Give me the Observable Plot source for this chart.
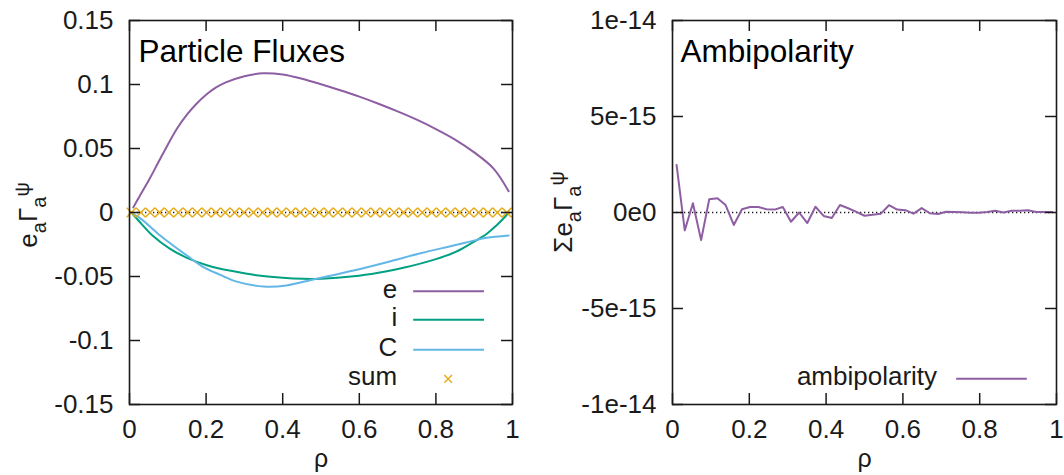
<!DOCTYPE html>
<html><head><meta charset="utf-8">
<script src="https://cdn.jsdelivr.net/npm/d3@7"></script>
<script src="https://cdn.jsdelivr.net/npm/@observablehq/plot@0.6"></script>
<style>
body{margin:0;background:#fff;}
#row{display:flex;width:1064px;height:475px;}
#row svg{display:block;}
</style></head><body><div id="row"></div>
<script>
// ---------- data: left panel (particle fluxes) ----------
const rhoE  = [0.01, 0.025, 0.05, 0.075, 0.1, 0.125, 0.15, 0.175, 0.2, 0.225, 0.25, 0.3, 0.35, 0.4, 0.45, 0.5, 0.55, 0.6, 0.65, 0.7, 0.75, 0.8, 0.85, 0.9, 0.95, 0.99];
const fluxE = [0.004, 0.012, 0.025, 0.039, 0.053, 0.066, 0.0765, 0.085, 0.092, 0.0975, 0.1015, 0.1065, 0.1088, 0.1078, 0.1045, 0.1002, 0.0955, 0.0905, 0.085, 0.079, 0.0725, 0.0652, 0.057, 0.047, 0.0345, 0.0166];

const rhoI  = [0.005, 0.03, 0.06, 0.106, 0.15, 0.2, 0.237, 0.3, 0.324, 0.4, 0.454, 0.5, 0.585, 0.65, 0.715, 0.8, 0.85, 0.89, 0.933, 0.96, 0.977, 0.99];
const fluxI = [0, -0.0085, -0.018, -0.0284, -0.0354, -0.041, -0.044, -0.0475, -0.0487, -0.051, -0.0518, -0.0517, -0.0498, -0.047, -0.0432, -0.0364, -0.031, -0.0245, -0.0166, -0.0095, -0.0045, 0];

const rhoC  = [0.005, 0.03, 0.063, 0.08, 0.106, 0.15, 0.193, 0.237, 0.28, 0.35, 0.41, 0.48, 0.585, 0.672, 0.76, 0.846, 0.907, 0.933, 0.99];
const fluxC = [0, -0.005, -0.0135, -0.018, -0.024, -0.0336, -0.0427, -0.0487, -0.054, -0.0578, -0.057, -0.0523, -0.0453, -0.0388, -0.0318, -0.0258, -0.0214, -0.0198, -0.018];

const rhoSum = [0.005, 0.0295, 0.054, 0.0785, 0.103, 0.1275, 0.152, 0.1765, 0.201, 0.2255, 0.25, 0.2745, 0.299, 0.3235, 0.348, 0.3725, 0.397, 0.4215, 0.446, 0.4705, 0.495, 0.5195, 0.544, 0.5685, 0.593, 0.6175, 0.642, 0.6665, 0.691, 0.7155, 0.74, 0.7645, 0.789, 0.8135, 0.838, 0.8625, 0.887, 0.9115, 0.936, 0.9605, 0.985];
const fluxSum = [0,0,0,0,0,0,0,0,0,0,0,0,0,0,0,0,0,0,0,0,0,0,0,0,0,0,0,0,0,0,0,0,0,0,0,0,0,0,0,0,0];

const seriesNames  = ["e", "i", "C", "sum"];
const seriesColors = ["#8e5ea2", "#00a083", "#62b7e6", "#e6ad1f"];

const xTicks      = [0, 0.2, 0.4, 0.6, 0.8, 1];
const xTickLabels = ["0", "0.2", "0.4", "0.6", "0.8", "1"];
const yTicksL      = [-0.15, -0.1, -0.05, 0, 0.05, 0.1, 0.15];
const yTickLabelsL = ["-0.15", "-0.1", "-0.05", "0", "0.05", "0.1", "0.15"];

// ---------- data: right panel (ambipolarity) ----------
const rhoAmb = [0.0106, 0.0319, 0.0532, 0.0745, 0.0957, 0.117, 0.1383, 0.1596, 0.1809, 0.2021, 0.2234, 0.2447, 0.266, 0.2872, 0.3085, 0.3298, 0.3511, 0.3723, 0.3936, 0.4149, 0.4362, 0.4574, 0.4787, 0.5, 0.5213, 0.5426, 0.5638, 0.5851, 0.6064, 0.6277, 0.6489, 0.6702, 0.6915, 0.7128, 0.734, 0.7553, 0.7766, 0.7979, 0.8191, 0.8404, 0.8617, 0.883, 0.9043, 0.9255, 0.9468, 0.9681, 0.9894];
const amb = [2.48e-15, -0.93e-15, 0.48e-15, -1.44e-15, 0.69e-15, 0.74e-15, 0.39e-15, -0.65e-15, 0.17e-15, 0.29e-15, 0.29e-15, 0.17e-15, 0.15e-15, 0.29e-15, -0.48e-15, 0, -0.55e-15, 0.30e-15, -0.18e-15, -0.29e-15, 0.39e-15, 0.22e-15, 0.03e-15, -0.17e-15, -0.12e-15, -0.06e-15, 0.38e-15, 0.15e-15, 0.12e-15, -0.06e-15, 0.23e-15, -0.04e-15, -0.08e-15, 0.04e-15, 0.03e-15, 0.01e-15, -0.01e-15, -0.01e-15, 0.03e-15, 0.09e-15, 0, 0.09e-15, 0.09e-15, 0.12e-15, 0.03e-15, 0.03e-15, 0.03e-15];
const ambName = "ambipolarity";
const yTicksR      = [-1e-14, -5e-15, 0, 5e-15, 1e-14];
const yTickLabelsR = ["-1e-14", "-5e-15", "0e0", "5e-15", "1e-14"];

// ---------- layout ----------
const FONT = "'Liberation Sans', Arial, Helvetica, sans-serif";
const INK = "#1a1a1a";
const W = 532, H = 475, MT = 20, MB = 71;
const FH = H - MT - MB; // frame height
const TICK = 11;

function commonAxes(yTicks, yLabels) {
  return [
    Plot.axisX({ticks: xTicks, tickSize: 0, tickPadding: 15, fontSize: 26, tickFormat: d => xTickLabels[xTicks.indexOf(d)], label: null}),
    Plot.axisY({ticks: yTicks, tickSize: 0, tickPadding: 16, fontSize: 26, anchor: "left", tickFormat: d => yLabels[yTicks.indexOf(d)], label: null}),
    Plot.text(["ρ"], {frameAnchor: "bottom", dy: 62, lineAnchor: "bottom", fontSize: 25, fill: INK})
  ];
}

function inTicks(yTicks, mL, mR) {
  const fw = W - mL - mR;
  return [
    Plot.ruleY(yTicks, {y: d => d, stroke: INK, strokeWidth: 1.5, insetRight: fw - TICK}),
    Plot.ruleY(yTicks, {y: d => d, stroke: INK, strokeWidth: 1.5, insetLeft: fw - TICK}),
    Plot.ruleX(xTicks, {x: d => d, stroke: INK, strokeWidth: 1.5, insetBottom: FH - TICK}),
    Plot.ruleX(xTicks, {x: d => d, stroke: INK, strokeWidth: 1.5, insetTop: FH - TICK})
  ];
}

// ---------- left panel ----------
const mLL = 129, mRL = 20;
const left = Plot.plot({
  width: W, height: H, marginLeft: mLL, marginRight: mRL, marginTop: MT, marginBottom: MB,
  style: {fontFamily: FONT, color: INK, background: "white", overflow: "visible"},
  x: {domain: [0, 1]},
  y: {domain: [-0.15, 0.15]},
  marks: [
    Plot.ruleY([0], {stroke: INK, strokeWidth: 1.3, strokeDasharray: "1.3,2.7"}),
    Plot.line(rhoE, {x: rhoE, y: fluxE, stroke: seriesColors[0], strokeWidth: 2, curve: "catmull-rom"}),
    Plot.line(rhoI, {x: rhoI, y: fluxI, stroke: seriesColors[1], strokeWidth: 2, curve: "catmull-rom"}),
    Plot.line(rhoC, {x: rhoC, y: fluxC, stroke: seriesColors[2], strokeWidth: 2, curve: "catmull-rom"}),
    Plot.dot(rhoSum, {x: rhoSum, y: fluxSum, symbol: "times", r: 4.4, stroke: seriesColors[3], strokeWidth: 1.6}),
    // legend
    Plot.text(seriesNames, {x: 0.699, y: [-0.0615, -0.0838, -0.1073, -0.130], text: seriesNames, textAnchor: "end", fontSize: 26, fill: INK, dy: -2}),
    Plot.ruleY(seriesNames.slice(0, 3), {y: [-0.0615, -0.0838, -0.1073], x1: 0.742, x2: 0.927, stroke: seriesColors.slice(0, 3), strokeWidth: 2}),
    Plot.dot([seriesNames[3]], {x: 0.832, y: -0.130, symbol: "times", r: 3.6, stroke: seriesColors[3], strokeWidth: 1.5}),
    Plot.text(["Particle Fluxes"], {frameAnchor: "top-left", dx: 9, dy: 41, textAnchor: "start", lineAnchor: "bottom", fontSize: 31.5, fill: "black"}),
    ...inTicks(yTicksL, mLL, mRL),
    ...commonAxes(yTicksL, yTickLabelsL),
    Plot.frame({stroke: INK, strokeWidth: 1.6})
  ]
});

// ---------- right panel ----------
const mLR = 140, mRR = 8;
const right = Plot.plot({
  width: W, height: H, marginLeft: mLR, marginRight: mRR, marginTop: MT, marginBottom: MB,
  style: {fontFamily: FONT, color: INK, background: "white", overflow: "visible"},
  x: {domain: [0, 1]},
  y: {domain: [-1e-14, 1e-14]},
  marks: [
    Plot.ruleY([0], {stroke: INK, strokeWidth: 1.3, strokeDasharray: "1.3,2.7"}),
    Plot.line(rhoAmb, {x: rhoAmb, y: amb, stroke: seriesColors[0], strokeWidth: 2}),
    Plot.text([ambName], {x: 0.689, y: -8.66e-15, text: d => d, textAnchor: "end", fontSize: 26, fill: INK, dy: -2}),
    Plot.ruleY([ambName], {y: -8.66e-15, x1: 0.740, x2: 0.924, stroke: seriesColors[0], strokeWidth: 2}),
    Plot.text(["Ambipolarity"], {frameAnchor: "top-left", dx: 8, dy: 41, textAnchor: "start", lineAnchor: "bottom", fontSize: 31.5, fill: "black"}),
    ...inTicks(yTicksR, mLR, mRR),
    ...commonAxes(yTicksR, yTickLabelsR),
    Plot.frame({stroke: INK, strokeWidth: 1.6})
  ]
});

// ---------- rotated y-axis titles with sub/superscripts ----------
function yTitle(svg, x, y, prefix) {
  const t = d3.select(svg).append("text")
    .attr("transform", `translate(${x},${y}) rotate(-90)`)
    .attr("text-anchor", "middle")
    .attr("font-family", FONT)
    .attr("font-size", 26)
    .attr("fill", INK);
  const parts = [];
  if (prefix) parts.push([prefix, 26, 0]);
  parts.push(["e", 26, 0], ["a", 20, 9], ["Γ", 26, -9], ["a", 20, 9], ["ψ", 20, -17]);
  for (const [s, fs, dy] of parts) t.append("tspan").attr("font-size", fs).attr("dy", dy).text(s);
}
yTitle(left, 37, 215, null);
yTitle(right, 40, 212, "Σ");

const row = document.getElementById("row");
row.appendChild(left);
row.appendChild(right);
</script>
</body></html>
